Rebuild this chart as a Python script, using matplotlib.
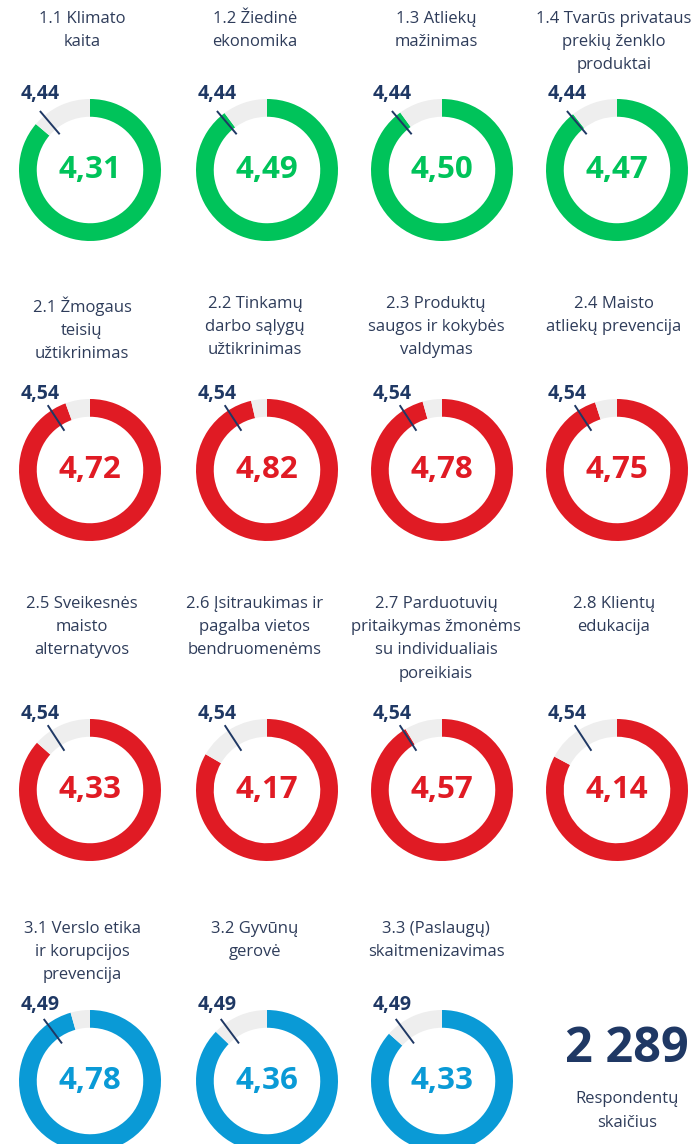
import math
import matplotlib.pyplot as plt

plt.rcParams['font.family'] = ['Open Sans', 'DejaVu Sans']

# chart data
titles = [
    "1.1 Klimato\nkaita", "1.2 Žiedinė\nekonomika", "1.3 Atliekų\nmažinimas",
    "1.4 Tvarūs privataus\nprekių ženklo\nproduktai",
    "2.1 Žmogaus\nteisių\nužtikrinimas", "2.2 Tinkamų\ndarbo sąlygų\nužtikrinimas",
    "2.3 Produktų\nsaugos ir kokybės\nvaldymas", "2.4 Maisto\natliekų prevencija",
    "2.5 Sveikesnės\nmaisto\nalternatyvos", "2.6 Įsitraukimas ir\npagalba vietos\nbendruomenėms",
    "2.7 Parduotuvių\npritaikymas žmonėms\nsu individualiais\nporeikiais", "2.8 Klientų\nedukacija",
    "3.1 Verslo etika\nir korupcijos\nprevencija", "3.2 Gyvūnų\ngerovė",
    "3.3 (Paslaugų)\nskaitmenizavimas",
]
scores = [4.31, 4.49, 4.50, 4.47,
          4.72, 4.82, 4.78, 4.75,
          4.33, 4.17, 4.57, 4.14,
          4.78, 4.36, 4.33]
benchmarks = [4.44, 4.44, 4.44, 4.44,
              4.54, 4.54, 4.54, 4.54,
              4.54, 4.54, 4.54, 4.54,
              4.49, 4.49, 4.49]
groups = [1, 1, 1, 1, 2, 2, 2, 2, 2, 2, 2, 2, 3, 3, 3]
max_score = 5
respondents = "2 289"
respondents_label = "Respondentų\nskaičius"

group_colors = {1: "#00c35a", 2: "#e01b24", 3: "#0a9ad6"}
rest_color = "#eeeeee"
navy = "#1f3864"
title_color = "#2e3c5a"

W, H = 693, 1144
fig = plt.figure(figsize=(W / 100, H / 100), dpi=100)

col_x = [90, 267, 442, 617]
title_x = [82, 255, 436, 614]
row_y = [170, 470, 790, 1081]
title_top = [11, 296, 596, 921]
R = 71  # outer radius in px
span = 1.35  # axes half-size in pie units

for i, (t, s, b, g) in enumerate(zip(titles, scores, benchmarks, groups)):
    r, c = divmod(i, 4)
    cx, cy = col_x[c], row_y[r]
    half = R * span
    ax = fig.add_axes([(cx - half) / W, 1 - (cy + half) / H, 2 * half / W, 2 * half / H])
    ax.pie([s, max_score - s], colors=[group_colors[g], rest_color],
           startangle=90, counterclock=False, radius=1,
           wedgeprops=dict(width=0.25, linewidth=0))
    ax.set_xlim(-span, span)
    ax.set_ylim(-span, span)
    ax.set_aspect('equal')
    ax.axis('off')
    # benchmark tick
    ang = math.radians(90 - b / max_score * 360)
    ax.plot([0.66 * math.cos(ang), 1.09 * math.cos(ang)],
            [0.66 * math.sin(ang), 1.09 * math.sin(ang)],
            color=navy, lw=1.4, solid_capstyle='butt')
    ax.text(-0.7, 1.07, f"{b:.2f}".replace('.', ','), ha='center', va='center',
            fontsize=14, fontweight='bold', color=navy)
    ax.text(0, 0, f"{s:.2f}".replace('.', ','), ha='center', va='center',
            fontsize=22.5, fontweight='bold', color=group_colors[g])
    fig.text(title_x[c] / W, 1 - title_top[r] / H, t, ha='center', va='top',
             fontsize=12, color=title_color, linespacing=1.6)

fig.text(627 / W, 1 - 1050 / H, respondents, ha='center', va='center',
         fontsize=35, fontweight='bold', color=navy)
fig.text(627 / W, 1 - 1111 / H, respondents_label, ha='center', va='center',
         fontsize=12, color=title_color, linespacing=1.6)

fig.savefig("out.png", dpi=100, facecolor='white')
